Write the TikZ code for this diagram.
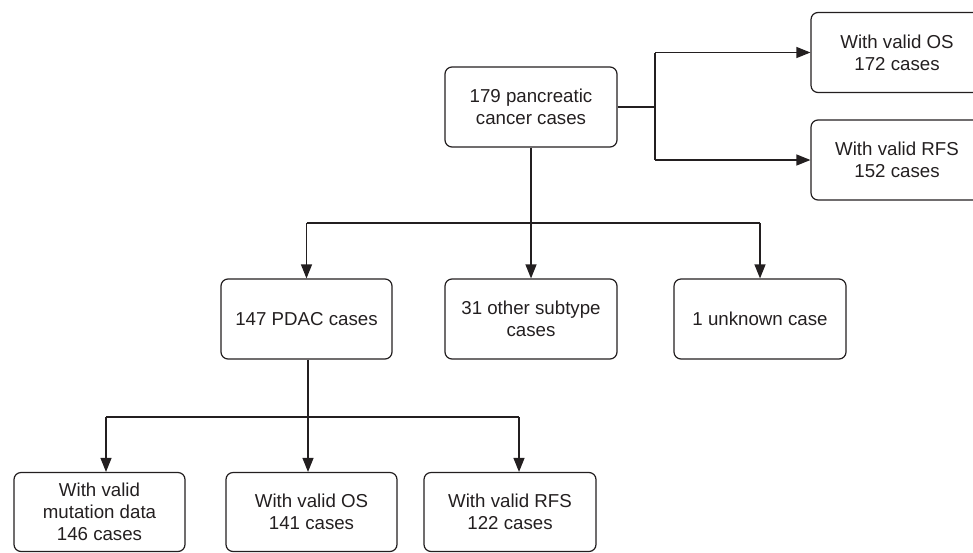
\documentclass[tikz,border=0pt]{standalone}
\usepackage{fontspec}
\setmainfont{Liberation Sans}
\usetikzlibrary{arrows.meta}
\definecolor{ink}{HTML}{231F20}
\begin{document}
\begin{tikzpicture}[x=1pt,y=1pt,
  box/.style={draw=ink, line width=1.2pt, rounded corners=7pt, minimum width=172pt, minimum height=80pt,
    align=center, text=ink, inner sep=2pt, font=\fontsize{18.7}{22}\selectfont},
  conn/.style={draw=ink, line width=1.2pt},
  arr/.style={conn, -{Triangle[length=14pt, width=11pt]}}]
\useasboundingbox (0,0) rectangle (973,-552);
\clip (0,0) rectangle (973,-552);
% boxes
\node[box] (top)   at (531,-107)   {179 pancreatic\\cancer cases};
\node[box] (os1)   at (897,-52.5)  {With valid OS\\172 cases};
\node[box] (rfs1)  at (897,-160)   {With valid RFS\\152 cases};
\node[box, minimum width=171pt] (pdac)  at (306.5,-319) {147 PDAC cases};
\node[box] (other) at (531,-319)   {31 other subtype\\cases};
\node[box] (unk)   at (760,-319)   {1 unknown case};
\node[box, minimum width=171pt, minimum height=79pt] (mut)  at (99.5,-512)  {With valid\\mutation data\\146 cases};
\node[box, minimum width=171pt, minimum height=79pt] (os2)  at (311.5,-512) {With valid OS\\141 cases};
\node[box, minimum height=79pt] (rfs2) at (510,-512) {With valid RFS\\122 cases};
% junctions
\coordinate (jr) at (655,-107);
\coordinate (jm) at (531,-223);
\coordinate (jb) at (308,-417);
% right branch
\draw[conn] (top.east) -- (jr);
\draw[conn] (jr |- os1.west) -- (jr |- rfs1.west);
\draw[arr] (jr |- os1.west) -- (os1.west);
\draw[arr] (jr |- rfs1.west) -- (rfs1.west);
% middle branch
\draw[conn] (top.south) -- (jm);
\draw[conn] (pdac.north |- jm) -- (unk.north |- jm);
\draw[arr] (pdac.north |- jm) -- (pdac.north);
\draw[arr] (jm) -- (other.north);
\draw[arr] (unk.north |- jm) -- (unk.north);
% bottom branch
\draw[conn] (pdac.south -| jb) -- (jb);
\coordinate (bl) at ([xshift=6.5pt]mut.north |- jb);
\coordinate (br) at ([xshift=9pt]rfs2.north |- jb);
\draw[conn] (bl) -- (br);
\draw[arr] (bl) -- ([xshift=6.5pt]mut.north);
\draw[arr] (jb) -- (jb |- os2.north);
\draw[arr] (br) -- ([xshift=9pt]rfs2.north);
\end{tikzpicture}
\end{document}
